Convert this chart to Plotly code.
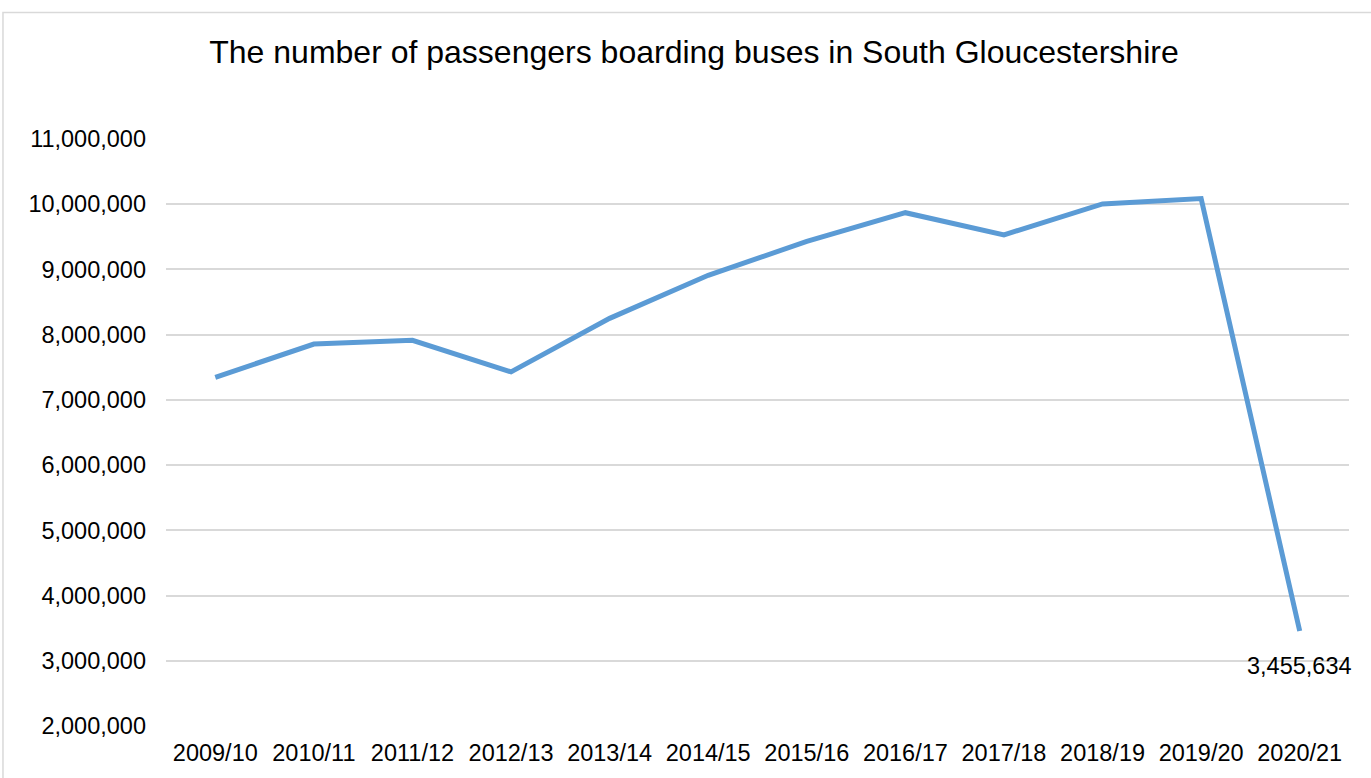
import plotly.graph_objects as go

# Financial years and passenger boardings
years = ["2009/10", "2010/11", "2011/12", "2012/13", "2013/14", "2014/15",
         "2015/16", "2016/17", "2017/18", "2018/19", "2019/20", "2020/21"]
passengers = [7346000, 7856000, 7913000, 7430000, 8250000, 8910000,
              9430000, 9870000, 9530000, 10005000, 10087000, 3455634]

title_text = "The number of passengers boarding buses in South Gloucestershire"
font_family = "Arial, Liberation Sans, sans-serif"
grid_color = "#d9d9d9"

fig = go.Figure()
fig.add_trace(go.Scatter(
    x=years,
    y=passengers,
    mode="lines",
    line=dict(color="#5b9bd5", width=5),
    hoverinfo="x+y",
))

# Value label under the final point
fig.add_annotation(
    x=years[-1], y=passengers[-1],
    text=f"{passengers[-1]:,}",
    showarrow=False,
    yshift=-35,
    font=dict(family=font_family, size=23.5, color="#000000"),
)

# Outer chart frame
fig.add_shape(
    type="rect", xref="paper", yref="paper",
    x0=-0.1378, x1=1.03, y0=-0.12, y1=1.2155,
    line=dict(color=grid_color, width=1.5),
    fillcolor="rgba(0,0,0,0)",
    layer="below",
)

fig.update_layout(
    width=1371, height=778,
    margin=dict(l=166, r=22, t=139, b=52),
    paper_bgcolor="white",
    plot_bgcolor="white",
    showlegend=False,
    font=dict(family=font_family, color="#000000"),
    title=dict(
        text=title_text,
        x=694 / 1371, xanchor="center",
        y=1 - 52 / 778, yanchor="middle",
        font=dict(family=font_family, size=32, color="#000000"),
    ),
    xaxis=dict(
        type="category",
        range=[-0.5, len(years) - 0.5],
        showgrid=False,
        showline=False,
        zeroline=False,
        ticks="",
        tickfont=dict(family=font_family, size=23.5, color="#000000"),
        ticklabelstandoff=10,
    ),
    yaxis=dict(
        range=[2000000, 11000000],
        dtick=1000000,
        tickformat=",",
        showgrid=True,
        gridcolor=grid_color,
        gridwidth=1.6,
        showline=False,
        zeroline=False,
        ticks="",
        tickfont=dict(family=font_family, size=23.5, color="#000000"),
        ticklabelstandoff=19,
    ),
)

fig.write_html("out.html")
